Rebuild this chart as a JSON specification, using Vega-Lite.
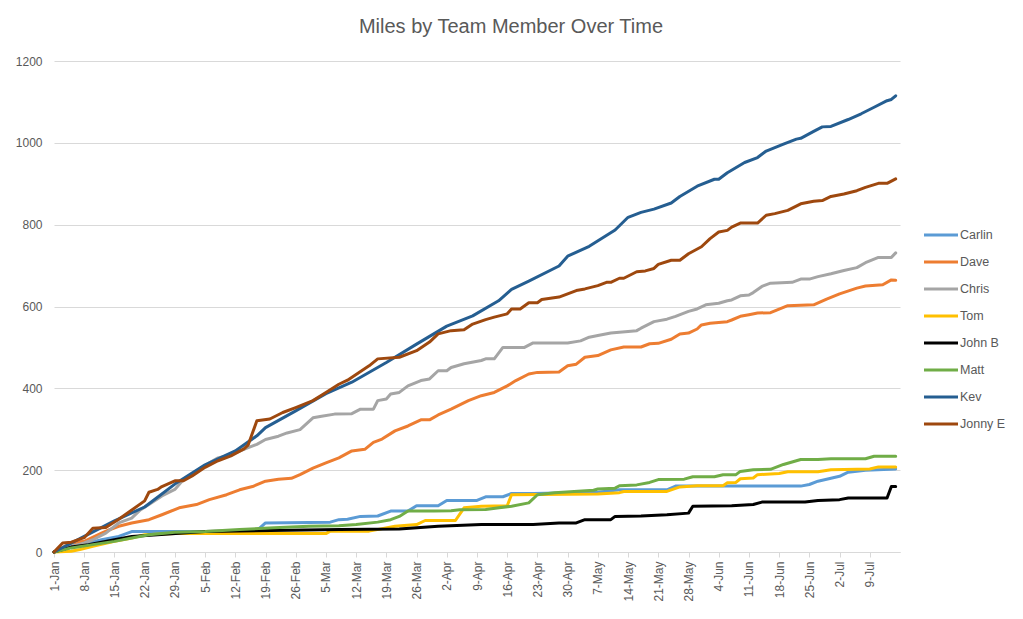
{
  "$schema": "https://vega.github.io/schema/vega-lite/v6.json",
  "width": 846,
  "height": 491,
  "autosize": {"type": "none"},
  "padding": {"left": 54, "top": 61, "right": 123, "bottom": 67},
  "background": "white",
  "title": {"text": "Miles by Team Member Over Time", "fontSize": 20, "font": "Liberation Sans", "fontWeight": "normal", "color": "#595959", "anchor": "middle", "frame": "group", "baseline": "alphabetic", "offset": 2, "dx": 34},
  "datasets": {
    "miles": [
      {"member":"Carlin","date":"2019-01-01","miles":0},{"member":"Carlin","date":"2019-01-05","miles":14},{"member":"Carlin","date":"2019-01-09","miles":22},{"member":"Carlin","date":"2019-01-12","miles":30},{"member":"Carlin","date":"2019-01-16","miles":38},{"member":"Carlin","date":"2019-01-19","miles":50},{"member":"Carlin","date":"2019-02-15","miles":50},{"member":"Carlin","date":"2019-02-17","miles":52},{"member":"Carlin","date":"2019-02-19","miles":71},{"member":"Carlin","date":"2019-03-06","miles":73},{"member":"Carlin","date":"2019-03-08","miles":79},{"member":"Carlin","date":"2019-03-10","miles":80},{"member":"Carlin","date":"2019-03-13","miles":87},{"member":"Carlin","date":"2019-03-17","miles":88},{"member":"Carlin","date":"2019-03-20","miles":100},{"member":"Carlin","date":"2019-03-24","miles":100},{"member":"Carlin","date":"2019-03-26","miles":113},{"member":"Carlin","date":"2019-03-31","miles":113},{"member":"Carlin","date":"2019-04-02","miles":126},{"member":"Carlin","date":"2019-04-09","miles":126},{"member":"Carlin","date":"2019-04-11","miles":135},{"member":"Carlin","date":"2019-04-15","miles":135},{"member":"Carlin","date":"2019-04-17","miles":143},{"member":"Carlin","date":"2019-04-22","miles":143},{"member":"Carlin","date":"2019-05-07","miles":146},{"member":"Carlin","date":"2019-05-12","miles":152},{"member":"Carlin","date":"2019-05-23","miles":152},{"member":"Carlin","date":"2019-05-25","miles":161},{"member":"Carlin","date":"2019-06-23","miles":161},{"member":"Carlin","date":"2019-06-25","miles":165},{"member":"Carlin","date":"2019-06-27","miles":173},{"member":"Carlin","date":"2019-07-02","miles":185},{"member":"Carlin","date":"2019-07-04","miles":195},{"member":"Carlin","date":"2019-07-08","miles":200},{"member":"Carlin","date":"2019-07-15","miles":203},
      {"member":"Dave","date":"2019-01-01","miles":0},{"member":"Dave","date":"2019-01-05","miles":22},{"member":"Dave","date":"2019-01-08","miles":26},{"member":"Dave","date":"2019-01-12","miles":46},{"member":"Dave","date":"2019-01-14","miles":55},{"member":"Dave","date":"2019-01-16","miles":63},{"member":"Dave","date":"2019-01-19","miles":71},{"member":"Dave","date":"2019-01-23","miles":79},{"member":"Dave","date":"2019-01-26","miles":91},{"member":"Dave","date":"2019-01-30","miles":108},{"member":"Dave","date":"2019-02-03","miles":116},{"member":"Dave","date":"2019-02-06","miles":128},{"member":"Dave","date":"2019-02-10","miles":140},{"member":"Dave","date":"2019-02-13","miles":152},{"member":"Dave","date":"2019-02-16","miles":160},{"member":"Dave","date":"2019-02-19","miles":173},{"member":"Dave","date":"2019-02-22","miles":178},{"member":"Dave","date":"2019-02-25","miles":180},{"member":"Dave","date":"2019-02-27","miles":189},{"member":"Dave","date":"2019-03-02","miles":205},{"member":"Dave","date":"2019-03-05","miles":218},{"member":"Dave","date":"2019-03-08","miles":230},{"member":"Dave","date":"2019-03-11","miles":247},{"member":"Dave","date":"2019-03-14","miles":251},{"member":"Dave","date":"2019-03-16","miles":268},{"member":"Dave","date":"2019-03-18","miles":276},{"member":"Dave","date":"2019-03-21","miles":296},{"member":"Dave","date":"2019-03-24","miles":308},{"member":"Dave","date":"2019-03-27","miles":323},{"member":"Dave","date":"2019-03-29","miles":323},{"member":"Dave","date":"2019-03-31","miles":335},{"member":"Dave","date":"2019-04-03","miles":349},{"member":"Dave","date":"2019-04-07","miles":370},{"member":"Dave","date":"2019-04-10","miles":382},{"member":"Dave","date":"2019-04-13","miles":390},{"member":"Dave","date":"2019-04-16","miles":406},{"member":"Dave","date":"2019-04-18","miles":419},{"member":"Dave","date":"2019-04-21","miles":435},{"member":"Dave","date":"2019-04-23","miles":439},{"member":"Dave","date":"2019-04-28","miles":440},{"member":"Dave","date":"2019-04-30","miles":455},{"member":"Dave","date":"2019-05-02","miles":459},{"member":"Dave","date":"2019-05-04","miles":476},{"member":"Dave","date":"2019-05-07","miles":480},{"member":"Dave","date":"2019-05-10","miles":494},{"member":"Dave","date":"2019-05-13","miles":501},{"member":"Dave","date":"2019-05-17","miles":501},{"member":"Dave","date":"2019-05-19","miles":509},{"member":"Dave","date":"2019-05-21","miles":510},{"member":"Dave","date":"2019-05-24","miles":520},{"member":"Dave","date":"2019-05-26","miles":533},{"member":"Dave","date":"2019-05-28","miles":535},{"member":"Dave","date":"2019-05-30","miles":545},{"member":"Dave","date":"2019-05-31","miles":555},{"member":"Dave","date":"2019-06-02","miles":559},{"member":"Dave","date":"2019-06-06","miles":563},{"member":"Dave","date":"2019-06-07","miles":567},{"member":"Dave","date":"2019-06-09","miles":576},{"member":"Dave","date":"2019-06-11","miles":580},{"member":"Dave","date":"2019-06-13","miles":584},{"member":"Dave","date":"2019-06-16","miles":585},{"member":"Dave","date":"2019-06-20","miles":602},{"member":"Dave","date":"2019-06-26","miles":604},{"member":"Dave","date":"2019-06-29","miles":618},{"member":"Dave","date":"2019-07-02","miles":631},{"member":"Dave","date":"2019-07-06","miles":645},{"member":"Dave","date":"2019-07-08","miles":650},{"member":"Dave","date":"2019-07-12","miles":653},{"member":"Dave","date":"2019-07-14","miles":665},{"member":"Dave","date":"2019-07-15","miles":664},
      {"member":"Chris","date":"2019-01-01","miles":0},{"member":"Chris","date":"2019-01-02","miles":3},{"member":"Chris","date":"2019-01-08","miles":22},{"member":"Chris","date":"2019-01-10","miles":30},{"member":"Chris","date":"2019-01-13","miles":46},{"member":"Chris","date":"2019-01-16","miles":71},{"member":"Chris","date":"2019-01-19","miles":83},{"member":"Chris","date":"2019-01-21","miles":103},{"member":"Chris","date":"2019-01-23","miles":116},{"member":"Chris","date":"2019-01-26","miles":137},{"member":"Chris","date":"2019-01-29","miles":153},{"member":"Chris","date":"2019-01-31","miles":177},{"member":"Chris","date":"2019-02-03","miles":198},{"member":"Chris","date":"2019-02-06","miles":218},{"member":"Chris","date":"2019-02-08","miles":230},{"member":"Chris","date":"2019-02-11","miles":238},{"member":"Chris","date":"2019-02-15","miles":255},{"member":"Chris","date":"2019-02-17","miles":263},{"member":"Chris","date":"2019-02-19","miles":275},{"member":"Chris","date":"2019-02-22","miles":283},{"member":"Chris","date":"2019-02-24","miles":291},{"member":"Chris","date":"2019-02-27","miles":299},{"member":"Chris","date":"2019-03-02","miles":328},{"member":"Chris","date":"2019-03-04","miles":332},{"member":"Chris","date":"2019-03-07","miles":337},{"member":"Chris","date":"2019-03-11","miles":338},{"member":"Chris","date":"2019-03-13","miles":349},{"member":"Chris","date":"2019-03-16","miles":349},{"member":"Chris","date":"2019-03-17","miles":370},{"member":"Chris","date":"2019-03-19","miles":374},{"member":"Chris","date":"2019-03-20","miles":386},{"member":"Chris","date":"2019-03-22","miles":390},{"member":"Chris","date":"2019-03-24","miles":406},{"member":"Chris","date":"2019-03-27","miles":419},{"member":"Chris","date":"2019-03-29","miles":423},{"member":"Chris","date":"2019-03-31","miles":443},{"member":"Chris","date":"2019-04-02","miles":443},{"member":"Chris","date":"2019-04-03","miles":451},{"member":"Chris","date":"2019-04-06","miles":460},{"member":"Chris","date":"2019-04-10","miles":468},{"member":"Chris","date":"2019-04-11","miles":472},{"member":"Chris","date":"2019-04-13","miles":472},{"member":"Chris","date":"2019-04-15","miles":500},{"member":"Chris","date":"2019-04-20","miles":500},{"member":"Chris","date":"2019-04-22","miles":511},{"member":"Chris","date":"2019-04-30","miles":511},{"member":"Chris","date":"2019-05-03","miles":516},{"member":"Chris","date":"2019-05-05","miles":525},{"member":"Chris","date":"2019-05-07","miles":529},{"member":"Chris","date":"2019-05-10","miles":535},{"member":"Chris","date":"2019-05-12","miles":537},{"member":"Chris","date":"2019-05-14","miles":539},{"member":"Chris","date":"2019-05-16","miles":541},{"member":"Chris","date":"2019-05-17","miles":547},{"member":"Chris","date":"2019-05-20","miles":563},{"member":"Chris","date":"2019-05-23","miles":569},{"member":"Chris","date":"2019-05-25","miles":576},{"member":"Chris","date":"2019-05-28","miles":588},{"member":"Chris","date":"2019-05-30","miles":594},{"member":"Chris","date":"2019-06-01","miles":604},{"member":"Chris","date":"2019-06-04","miles":608},{"member":"Chris","date":"2019-06-06","miles":614},{"member":"Chris","date":"2019-06-07","miles":616},{"member":"Chris","date":"2019-06-09","miles":626},{"member":"Chris","date":"2019-06-11","miles":628},{"member":"Chris","date":"2019-06-12","miles":634},{"member":"Chris","date":"2019-06-14","miles":649},{"member":"Chris","date":"2019-06-16","miles":657},{"member":"Chris","date":"2019-06-21","miles":659},{"member":"Chris","date":"2019-06-23","miles":667},{"member":"Chris","date":"2019-06-25","miles":667},{"member":"Chris","date":"2019-06-27","miles":673},{"member":"Chris","date":"2019-06-30","miles":680},{"member":"Chris","date":"2019-07-03","miles":688},{"member":"Chris","date":"2019-07-06","miles":695},{"member":"Chris","date":"2019-07-08","miles":707},{"member":"Chris","date":"2019-07-11","miles":720},{"member":"Chris","date":"2019-07-14","miles":720},{"member":"Chris","date":"2019-07-15","miles":731},
      {"member":"Tom","date":"2019-01-01","miles":0},{"member":"Tom","date":"2019-01-05","miles":2},{"member":"Tom","date":"2019-01-07","miles":6},{"member":"Tom","date":"2019-01-10","miles":14},{"member":"Tom","date":"2019-01-15","miles":26},{"member":"Tom","date":"2019-01-19","miles":34},{"member":"Tom","date":"2019-01-22","miles":42},{"member":"Tom","date":"2019-01-29","miles":45},{"member":"Tom","date":"2019-03-05","miles":45},{"member":"Tom","date":"2019-03-06","miles":51},{"member":"Tom","date":"2019-03-15","miles":51},{"member":"Tom","date":"2019-03-21","miles":63},{"member":"Tom","date":"2019-03-26","miles":67},{"member":"Tom","date":"2019-03-28","miles":77},{"member":"Tom","date":"2019-04-04","miles":77},{"member":"Tom","date":"2019-04-06","miles":108},{"member":"Tom","date":"2019-04-10","miles":112},{"member":"Tom","date":"2019-04-16","miles":113},{"member":"Tom","date":"2019-04-17","miles":140},{"member":"Tom","date":"2019-05-07","miles":142},{"member":"Tom","date":"2019-05-12","miles":145},{"member":"Tom","date":"2019-05-13","miles":148},{"member":"Tom","date":"2019-05-23","miles":148},{"member":"Tom","date":"2019-05-26","miles":159},{"member":"Tom","date":"2019-05-30","miles":162},{"member":"Tom","date":"2019-06-05","miles":162},{"member":"Tom","date":"2019-06-06","miles":169},{"member":"Tom","date":"2019-06-08","miles":170},{"member":"Tom","date":"2019-06-09","miles":179},{"member":"Tom","date":"2019-06-12","miles":181},{"member":"Tom","date":"2019-06-13","miles":189},{"member":"Tom","date":"2019-06-18","miles":192},{"member":"Tom","date":"2019-06-20","miles":196},{"member":"Tom","date":"2019-06-27","miles":196},{"member":"Tom","date":"2019-06-30","miles":201},{"member":"Tom","date":"2019-07-09","miles":203},{"member":"Tom","date":"2019-07-11","miles":208},{"member":"Tom","date":"2019-07-15","miles":208},
      {"member":"John B","date":"2019-01-01","miles":0},{"member":"John B","date":"2019-01-05","miles":12},{"member":"John B","date":"2019-01-09","miles":18},{"member":"John B","date":"2019-01-15","miles":30},{"member":"John B","date":"2019-01-19","miles":38},{"member":"John B","date":"2019-01-25","miles":42},{"member":"John B","date":"2019-01-30","miles":46},{"member":"John B","date":"2019-02-05","miles":50},{"member":"John B","date":"2019-03-08","miles":55},{"member":"John B","date":"2019-03-22","miles":56},{"member":"John B","date":"2019-03-31","miles":63},{"member":"John B","date":"2019-04-10","miles":67},{"member":"John B","date":"2019-04-22","miles":67},{"member":"John B","date":"2019-04-28","miles":71},{"member":"John B","date":"2019-05-02","miles":71},{"member":"John B","date":"2019-05-04","miles":79},{"member":"John B","date":"2019-05-10","miles":79},{"member":"John B","date":"2019-05-11","miles":87},{"member":"John B","date":"2019-05-17","miles":88},{"member":"John B","date":"2019-05-23","miles":91},{"member":"John B","date":"2019-05-28","miles":95},{"member":"John B","date":"2019-05-29","miles":112},{"member":"John B","date":"2019-06-07","miles":113},{"member":"John B","date":"2019-06-12","miles":116},{"member":"John B","date":"2019-06-14","miles":122},{"member":"John B","date":"2019-06-24","miles":122},{"member":"John B","date":"2019-06-27","miles":126},{"member":"John B","date":"2019-07-02","miles":128},{"member":"John B","date":"2019-07-04","miles":132},{"member":"John B","date":"2019-07-13","miles":132},{"member":"John B","date":"2019-07-14","miles":160},{"member":"John B","date":"2019-07-15","miles":160},
      {"member":"Matt","date":"2019-01-01","miles":0},{"member":"Matt","date":"2019-01-05","miles":10},{"member":"Matt","date":"2019-01-10","miles":18},{"member":"Matt","date":"2019-01-15","miles":26},{"member":"Matt","date":"2019-01-19","miles":34},{"member":"Matt","date":"2019-01-23","miles":42},{"member":"Matt","date":"2019-01-29","miles":48},{"member":"Matt","date":"2019-02-05","miles":50},{"member":"Matt","date":"2019-02-13","miles":55},{"member":"Matt","date":"2019-02-21","miles":59},{"member":"Matt","date":"2019-03-01","miles":63},{"member":"Matt","date":"2019-03-08","miles":64},{"member":"Matt","date":"2019-03-12","miles":67},{"member":"Matt","date":"2019-03-17","miles":73},{"member":"Matt","date":"2019-03-20","miles":79},{"member":"Matt","date":"2019-03-22","miles":87},{"member":"Matt","date":"2019-03-24","miles":100},{"member":"Matt","date":"2019-03-30","miles":100},{"member":"Matt","date":"2019-04-03","miles":101},{"member":"Matt","date":"2019-04-05","miles":103},{"member":"Matt","date":"2019-04-11","miles":104},{"member":"Matt","date":"2019-04-17","miles":112},{"member":"Matt","date":"2019-04-21","miles":120},{"member":"Matt","date":"2019-04-23","miles":140},{"member":"Matt","date":"2019-04-27","miles":145},{"member":"Matt","date":"2019-05-06","miles":151},{"member":"Matt","date":"2019-05-07","miles":154},{"member":"Matt","date":"2019-05-11","miles":156},{"member":"Matt","date":"2019-05-12","miles":162},{"member":"Matt","date":"2019-05-16","miles":164},{"member":"Matt","date":"2019-05-19","miles":170},{"member":"Matt","date":"2019-05-21","miles":177},{"member":"Matt","date":"2019-05-27","miles":178},{"member":"Matt","date":"2019-05-29","miles":184},{"member":"Matt","date":"2019-06-03","miles":184},{"member":"Matt","date":"2019-06-05","miles":189},{"member":"Matt","date":"2019-06-08","miles":189},{"member":"Matt","date":"2019-06-09","miles":197},{"member":"Matt","date":"2019-06-12","miles":201},{"member":"Matt","date":"2019-06-16","miles":202},{"member":"Matt","date":"2019-06-19","miles":214},{"member":"Matt","date":"2019-06-23","miles":226},{"member":"Matt","date":"2019-06-27","miles":226},{"member":"Matt","date":"2019-06-30","miles":228},{"member":"Matt","date":"2019-07-08","miles":228},{"member":"Matt","date":"2019-07-10","miles":234},{"member":"Matt","date":"2019-07-15","miles":234},
      {"member":"Kev","date":"2019-01-01","miles":0},{"member":"Kev","date":"2019-01-08","miles":38},{"member":"Kev","date":"2019-01-15","miles":76},{"member":"Kev","date":"2019-01-22","miles":110},{"member":"Kev","date":"2019-01-29","miles":166},{"member":"Kev","date":"2019-02-05","miles":213},{"member":"Kev","date":"2019-02-12","miles":247},{"member":"Kev","date":"2019-02-17","miles":284},{"member":"Kev","date":"2019-02-19","miles":304},{"member":"Kev","date":"2019-02-26","miles":345},{"member":"Kev","date":"2019-03-05","miles":387},{"member":"Kev","date":"2019-03-11","miles":415},{"member":"Kev","date":"2019-03-19","miles":463},{"member":"Kev","date":"2019-03-26","miles":508},{"member":"Kev","date":"2019-04-02","miles":552},{"member":"Kev","date":"2019-04-08","miles":577},{"member":"Kev","date":"2019-04-14","miles":614},{"member":"Kev","date":"2019-04-17","miles":642},{"member":"Kev","date":"2019-04-21","miles":662},{"member":"Kev","date":"2019-04-28","miles":699},{"member":"Kev","date":"2019-04-30","miles":723},{"member":"Kev","date":"2019-05-05","miles":747},{"member":"Kev","date":"2019-05-11","miles":787},{"member":"Kev","date":"2019-05-14","miles":818},{"member":"Kev","date":"2019-05-17","miles":830},{"member":"Kev","date":"2019-05-20","miles":838},{"member":"Kev","date":"2019-05-24","miles":853},{"member":"Kev","date":"2019-05-26","miles":869},{"member":"Kev","date":"2019-05-30","miles":894},{"member":"Kev","date":"2019-06-03","miles":911},{"member":"Kev","date":"2019-06-04","miles":911},{"member":"Kev","date":"2019-06-06","miles":927},{"member":"Kev","date":"2019-06-10","miles":952},{"member":"Kev","date":"2019-06-13","miles":964},{"member":"Kev","date":"2019-06-15","miles":980},{"member":"Kev","date":"2019-06-19","miles":997},{"member":"Kev","date":"2019-06-22","miles":1009},{"member":"Kev","date":"2019-06-23","miles":1011},{"member":"Kev","date":"2019-06-26","miles":1028},{"member":"Kev","date":"2019-06-28","miles":1039},{"member":"Kev","date":"2019-06-30","miles":1040},{"member":"Kev","date":"2019-07-04","miles":1057},{"member":"Kev","date":"2019-07-07","miles":1071},{"member":"Kev","date":"2019-07-10","miles":1087},{"member":"Kev","date":"2019-07-13","miles":1103},{"member":"Kev","date":"2019-07-14","miles":1106},{"member":"Kev","date":"2019-07-15","miles":1115},
      {"member":"Jonny E","date":"2019-01-01","miles":0},{"member":"Jonny E","date":"2019-01-03","miles":22},{"member":"Jonny E","date":"2019-01-05","miles":24},{"member":"Jonny E","date":"2019-01-08","miles":35},{"member":"Jonny E","date":"2019-01-10","miles":58},{"member":"Jonny E","date":"2019-01-13","miles":60},{"member":"Jonny E","date":"2019-01-16","miles":80},{"member":"Jonny E","date":"2019-01-22","miles":125},{"member":"Jonny E","date":"2019-01-23","miles":146},{"member":"Jonny E","date":"2019-01-25","miles":153},{"member":"Jonny E","date":"2019-01-26","miles":160},{"member":"Jonny E","date":"2019-01-29","miles":174},{"member":"Jonny E","date":"2019-01-31","miles":174},{"member":"Jonny E","date":"2019-02-02","miles":186},{"member":"Jonny E","date":"2019-02-05","miles":207},{"member":"Jonny E","date":"2019-02-08","miles":223},{"member":"Jonny E","date":"2019-02-11","miles":235},{"member":"Jonny E","date":"2019-02-14","miles":252},{"member":"Jonny E","date":"2019-02-15","miles":262},{"member":"Jonny E","date":"2019-02-17","miles":321},{"member":"Jonny E","date":"2019-02-20","miles":325},{"member":"Jonny E","date":"2019-02-23","miles":341},{"member":"Jonny E","date":"2019-02-26","miles":353},{"member":"Jonny E","date":"2019-03-02","miles":370},{"member":"Jonny E","date":"2019-03-05","miles":390},{"member":"Jonny E","date":"2019-03-08","miles":410},{"member":"Jonny E","date":"2019-03-10","miles":420},{"member":"Jonny E","date":"2019-03-15","miles":455},{"member":"Jonny E","date":"2019-03-17","miles":472},{"member":"Jonny E","date":"2019-03-22","miles":476},{"member":"Jonny E","date":"2019-03-26","miles":492},{"member":"Jonny E","date":"2019-03-29","miles":513},{"member":"Jonny E","date":"2019-03-31","miles":533},{"member":"Jonny E","date":"2019-04-03","miles":541},{"member":"Jonny E","date":"2019-04-06","miles":543},{"member":"Jonny E","date":"2019-04-08","miles":557},{"member":"Jonny E","date":"2019-04-11","miles":568},{"member":"Jonny E","date":"2019-04-13","miles":574},{"member":"Jonny E","date":"2019-04-16","miles":582},{"member":"Jonny E","date":"2019-04-17","miles":594},{"member":"Jonny E","date":"2019-04-19","miles":594},{"member":"Jonny E","date":"2019-04-21","miles":609},{"member":"Jonny E","date":"2019-04-23","miles":609},{"member":"Jonny E","date":"2019-04-24","miles":617},{"member":"Jonny E","date":"2019-04-28","miles":623},{"member":"Jonny E","date":"2019-05-02","miles":639},{"member":"Jonny E","date":"2019-05-04","miles":643},{"member":"Jonny E","date":"2019-05-07","miles":651},{"member":"Jonny E","date":"2019-05-09","miles":659},{"member":"Jonny E","date":"2019-05-10","miles":659},{"member":"Jonny E","date":"2019-05-12","miles":669},{"member":"Jonny E","date":"2019-05-13","miles":669},{"member":"Jonny E","date":"2019-05-16","miles":685},{"member":"Jonny E","date":"2019-05-18","miles":687},{"member":"Jonny E","date":"2019-05-20","miles":693},{"member":"Jonny E","date":"2019-05-21","miles":703},{"member":"Jonny E","date":"2019-05-24","miles":713},{"member":"Jonny E","date":"2019-05-26","miles":713},{"member":"Jonny E","date":"2019-05-28","miles":729},{"member":"Jonny E","date":"2019-05-31","miles":746},{"member":"Jonny E","date":"2019-06-02","miles":766},{"member":"Jonny E","date":"2019-06-04","miles":782},{"member":"Jonny E","date":"2019-06-06","miles":786},{"member":"Jonny E","date":"2019-06-07","miles":794},{"member":"Jonny E","date":"2019-06-09","miles":804},{"member":"Jonny E","date":"2019-06-13","miles":804},{"member":"Jonny E","date":"2019-06-15","miles":823},{"member":"Jonny E","date":"2019-06-17","miles":827},{"member":"Jonny E","date":"2019-06-20","miles":835},{"member":"Jonny E","date":"2019-06-23","miles":851},{"member":"Jonny E","date":"2019-06-26","miles":857},{"member":"Jonny E","date":"2019-06-28","miles":859},{"member":"Jonny E","date":"2019-06-30","miles":869},{"member":"Jonny E","date":"2019-07-03","miles":875},{"member":"Jonny E","date":"2019-07-06","miles":883},{"member":"Jonny E","date":"2019-07-08","miles":891},{"member":"Jonny E","date":"2019-07-11","miles":901},{"member":"Jonny E","date":"2019-07-13","miles":901},{"member":"Jonny E","date":"2019-07-15","miles":912}
    ]
  },
  "data": {"name": "miles"},
  "mark": {"type": "line", "strokeWidth": 3, "strokeJoin": "round", "strokeCap": "round"},
  "encoding": {
    "x": {
      "field": "date", "type": "temporal",
      "scale": {"type": "utc", "domain": [{"year": 2019, "month": 1, "date": 1, "utc": true}, {"year": 2019, "month": 7, "date": 16, "utc": true}]},
      "axis": {
        "title": null, "format": "%-d-%b", "labelAngle": 270, "labelFontSize": 12, "labelColor": "#595959", "labelFont": "Liberation Sans",
        "domainColor": "#D9D9D9", "tickColor": "#D9D9D9", "tickSize": 5, "labelPadding": 4, "grid": false, "labelOverlap": false, "labelFlush": false, "labelBound": false,
        "values": [
          {"year":2019,"month":1,"date":1,"utc":true},{"year":2019,"month":1,"date":8,"utc":true},{"year":2019,"month":1,"date":15,"utc":true},{"year":2019,"month":1,"date":22,"utc":true},{"year":2019,"month":1,"date":29,"utc":true},
          {"year":2019,"month":2,"date":5,"utc":true},{"year":2019,"month":2,"date":12,"utc":true},{"year":2019,"month":2,"date":19,"utc":true},{"year":2019,"month":2,"date":26,"utc":true},
          {"year":2019,"month":3,"date":5,"utc":true},{"year":2019,"month":3,"date":12,"utc":true},{"year":2019,"month":3,"date":19,"utc":true},{"year":2019,"month":3,"date":26,"utc":true},
          {"year":2019,"month":4,"date":2,"utc":true},{"year":2019,"month":4,"date":9,"utc":true},{"year":2019,"month":4,"date":16,"utc":true},{"year":2019,"month":4,"date":23,"utc":true},{"year":2019,"month":4,"date":30,"utc":true},
          {"year":2019,"month":5,"date":7,"utc":true},{"year":2019,"month":5,"date":14,"utc":true},{"year":2019,"month":5,"date":21,"utc":true},{"year":2019,"month":5,"date":28,"utc":true},
          {"year":2019,"month":6,"date":4,"utc":true},{"year":2019,"month":6,"date":11,"utc":true},{"year":2019,"month":6,"date":18,"utc":true},{"year":2019,"month":6,"date":25,"utc":true},
          {"year":2019,"month":7,"date":2,"utc":true},{"year":2019,"month":7,"date":9,"utc":true}
        ]
      }
    },
    "y": {
      "field": "miles", "type": "quantitative",
      "scale": {"domain": [0, 1200], "nice": false},
      "axis": {"title": null, "format": "d", "values": [0, 200, 400, 600, 800, 1000, 1200], "grid": true, "gridColor": "#D9D9D9", "gridWidth": 1, "domain": false, "ticks": false, "labelFontSize": 12, "labelColor": "#595959", "labelFont": "Liberation Sans", "labelPadding": 12}
    },
    "color": {
      "field": "member", "type": "nominal",
      "scale": {"domain": ["Carlin", "Dave", "Chris", "Tom", "John B", "Matt", "Kev", "Jonny E"], "range": ["#5B9BD5", "#ED7D31", "#A5A5A5", "#FFC000", "#000000", "#70AD47", "#255E91", "#9E480E"]},
      "legend": {"title": null, "orient": "none", "legendX": 877, "legendY": 164, "symbolType": "M-2,0H2", "symbolSize": 289, "symbolStrokeWidth": 3, "labelFontSize": 12.5, "labelColor": "#595959", "labelFont": "Liberation Sans", "labelOffset": 9, "rowPadding": 10, "padding": 0}
    }
  },
  "config": {"view": {"stroke": null}, "font": "Liberation Sans"}
}
